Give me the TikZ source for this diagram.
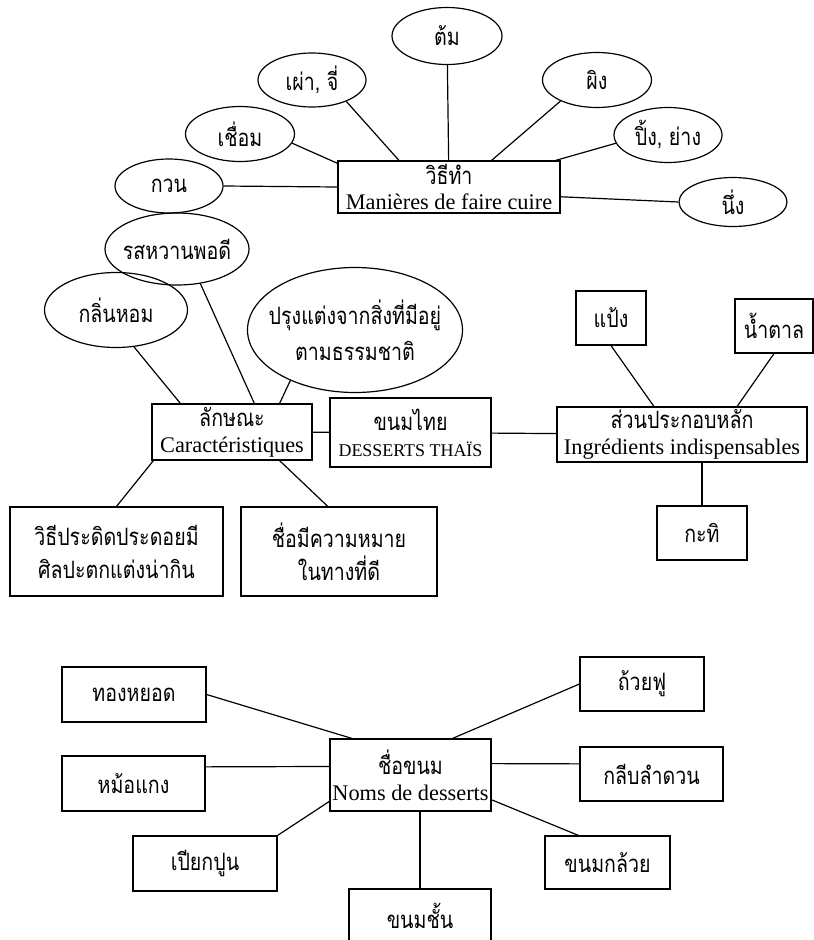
\documentclass[tikz,border=0pt]{standalone}
\usepackage{fontspec}
\setmainfont{Liberation Serif}
\newfontfamily\thaifont[Script=Thai,FakeStretch=0.82]{Loma}
\usetikzlibrary{shapes.geometric}

\newcommand\thaitext[1]{{\thaifont\fontsize{24}{27}\selectfont #1}}
\newcommand\ovaltext[1]{\makebox[0pt]{\thaitext{#1}}}

\tikzset{
  box/.style={draw, rectangle, inner sep=0pt, align=center},
  oval/.style={draw, ellipse, inner sep=0pt, align=center},
}

\begin{document}
\begin{tikzpicture}[x=1bp,y=-1bp,line width=1.2pt,font=\fontsize{22.4}{25}\selectfont]
  \useasboundingbox (0,0) rectangle (814,940);

  % cooking methods
  \node[box, minimum width=222bp, minimum height=52bp] (cook) at (449,187) {\thaitext{วิธีทำ}\\[1bp]Manières de faire cuire};
  \node[oval, minimum width=110bp, minimum height=57bp] (tom)   at (447,36)  {\ovaltext{ต้ม}};
  \node[oval, minimum width=108bp, minimum height=54bp] (pao)   at (312,80)  {\ovaltext{เผ่า, จี่}};
  \node[oval, minimum width=109bp, minimum height=55bp] (chuam) at (240,134) {\ovaltext{เชื่อม}};
  \node[oval, minimum width=108bp, minimum height=54bp] (kuan)  at (169,186) {\ovaltext{กวน}};
  \node[oval, minimum width=109bp, minimum height=55bp] (ping)  at (597,80)  {\ovaltext{ผิง}};
  \node[oval, minimum width=108bp, minimum height=55bp] (yang)  at (668,135) {\ovaltext{ปิ้ง, ย่าง}};
  \node[oval, minimum width=108bp, minimum height=49bp] (nung)  at (733,202) {\ovaltext{นึ่ง}};

  \path (tom) edge (cook)
        (pao.-32) edge (cook.152)
        (chuam.-10) edge (cook.168)
        (kuan.east) edge (cook.west)
        (ping.210) edge (cook.32)
        (yang.189) edge (cook.14)
        (cook.-5) edge (nung.west);

  % characteristics
  \node[box, minimum width=160bp, minimum height=56bp] (trait) at (232,432) {\thaitext{ลักษณะ}\\[1bp]Caractéristiques};
  \node[oval, minimum width=144bp, minimum height=72bp] (sweet) at (177,249) {\ovaltext{รสหวานพอดี}};
  \node[oval, minimum width=143bp, minimum height=75bp] (smell) at (116,310) {\ovaltext{กลิ่นหอม}};
  \node[oval, minimum width=215bp, minimum height=125bp] (natural) at (355,330)
    {\ovaltext{ปรุงแต่งจากสิ่งที่มีอยู่}\\[10bp]\ovaltext{ตามธรรมชาติ}};
  \node[box, minimum width=213bp, minimum height=89bp] (art)  at (116.5,551.5) {\thaitext{วิธีประดิดประดอยมี}\\[8bp]\thaitext{ศิลปะตกแต่งน่ากิน}};
  \node[box, minimum width=196bp, minimum height=89bp] (meaning) at (339,551.5) {\thaitext{ชื่อมีความหมาย}\\[8bp]\thaitext{ในทางที่ดี}};

  \path (smell.-64) edge (trait.151)
        (sweet.-56) edge (trait.52)
        (natural.218) edge (trait.31)
        (trait.200) edge (art.north)
        (trait.-31) edge (meaning.104);

  % thai desserts and ingredients
  \node[box, minimum width=161bp, minimum height=69bp] (thai) at (410.5,432.5) {\thaitext{ขนมไทย}\\[1bp]{\fontsize{18}{20}\selectfont DESSERTS THAÏS}};
  \node[box, minimum width=250bp, minimum height=55bp] (ingr) at (682,434.5) {\thaitext{ส่วนประกอบหลัก}\\[1bp]Ingrédients indispensables};
  \node[box, minimum width=70bp, minimum height=54bp] (flour) at (611,318) {\thaitext{แป้ง}};
  \node[box, minimum width=78bp, minimum height=54bp] (sugar) at (774,326) {\thaitext{น้ำตาล}};
  \node[box, minimum width=90bp, minimum height=54bp] (coco)  at (702,533) {\thaitext{กะทิ}};

  \path (trait) edge (thai)
        (thai) edge (ingr)
        (flour.south) edge (ingr.135)
        (sugar.south) edge (ingr.27)
        (coco.north) edge (coco.north |- ingr.south);

  % dessert names
  \node[box, minimum width=161bp, minimum height=72bp] (names) at (410.5,775) {\thaitext{ชื่อขนม}\\[1bp]Noms de desserts};
  \node[box, minimum width=144bp, minimum height=55bp] (thong) at (134,694.5)   {\thaitext{ทองหยอด}};
  \node[box, minimum width=143bp, minimum height=55bp] (mo)    at (133.5,783.5) {\thaitext{หม้อแกง}};
  \node[box, minimum width=144bp, minimum height=55bp] (piak)  at (205,863.5)   {\thaitext{เปียกปูน}};
  \node[box, minimum width=142bp, minimum height=54bp] (chan)  at (420,916)     {\thaitext{ขนมชั้น}};
  \node[box, minimum width=124bp, minimum height=54bp] (fu)    at (642,684)     {\thaitext{ถ้วยฟู}};
  \node[box, minimum width=143bp, minimum height=54bp] (klib)  at (651.5,774)   {\thaitext{กลีบลำดวน}};
  \node[box, minimum width=125bp, minimum height=53bp] (kluai) at (607.5,862.5) {\thaitext{ขนมกล้วย}};

  \path (thong.east) edge (names.148)
        (mo.13) edge (names.174)
        (piak.north east) edge (names.198)
        (chan.north) edge (chan.north |- names.south)
        (names.41) edge (fu.west)
        (names.8) edge (klib.172)
        (names.-17) edge (kluai.137);
\end{tikzpicture}
\end{document}
